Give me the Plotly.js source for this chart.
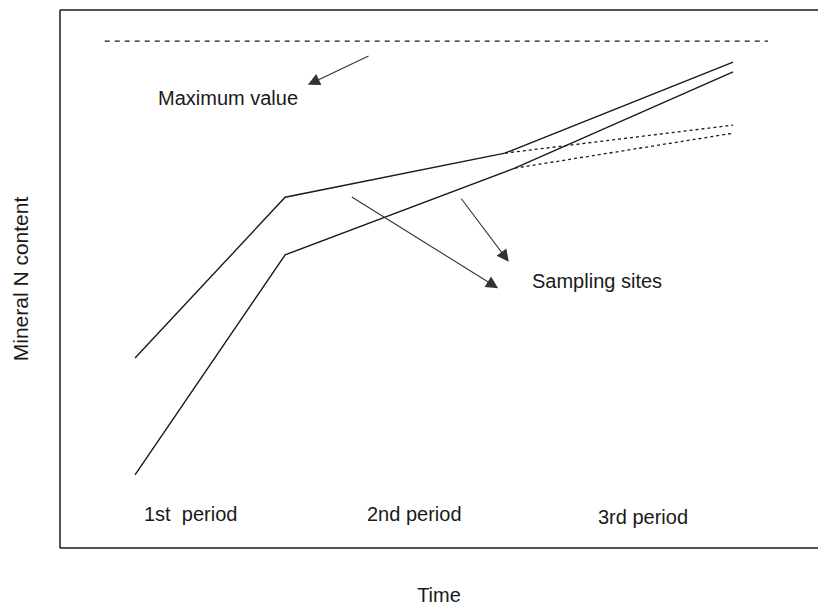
<!DOCTYPE html>
<html>
<head>
<meta charset="utf-8">
<script src="https://cdn.plot.ly/plotly-3.0.1.min.js"></script>
<style>html,body{margin:0;padding:0;background:#fff;}#chart{width:818px;height:614px;}</style>
</head>
<body>
<div id="chart"></div>
<script>
// Schematic values (arbitrary units: time 0-100, mineral N content 0-100)
const upperTime = [9.9, 29.7, 58.7, 88.8];
const upperN    = [35.3, 65.2, 73.4, 90.3];
const lowerTime = [9.9, 29.7, 60.0, 88.8];
const lowerN    = [13.6, 54.5, 70.6, 88.5];
const upperAltTime = [58.7, 88.8];
const upperAltN    = [73.4, 78.6];
const lowerAltTime = [60.0, 88.8];
const lowerAltN    = [70.6, 77.1];
const maxTime = [5.9, 93.4];
const maxN    = [94.2, 94.2];
const periodLabels = ["1st  period", "2nd period", "3rd period"];
const periodTime   = [17.2, 46.8, 76.9];
const periodN      = [6.3, 6.3, 5.8];
// arrows: [tailTime, tailN, headTime, headN]
const maxArrow = [40.9, 91.6, 32.7, 86.1];
const siteArrows = [[38.3, 65.4, 57.8, 48.3], [52.8, 65.2, 59.2, 53.2]];
const maxLabel = {text: "Maximum value", t: 22.2, n: 83.6};
const siteLabel = {text: "Sampling sites", t: 70.8, n: 49.6};

const ink = "#1a1a1a";
const font = "Liberation Sans, Arial, Helvetica, sans-serif";
const fs = 20;

const traces = [
  {x: upperTime, y: upperN, mode: "lines", line: {color: ink, width: 1.4}, hoverinfo: "skip"},
  {x: lowerTime, y: lowerN, mode: "lines", line: {color: ink, width: 1.4}, hoverinfo: "skip"},
  {x: upperAltTime, y: upperAltN, mode: "lines", line: {color: ink, width: 1.3, dash: "dot"}, hoverinfo: "skip"},
  {x: lowerAltTime, y: lowerAltN, mode: "lines", line: {color: ink, width: 1.3, dash: "dot"}, hoverinfo: "skip"},
  {x: maxTime, y: maxN, mode: "lines", line: {color: ink, width: 1.3, dash: "5px,5px"}, hoverinfo: "skip"}
];

const annotations = [];
periodLabels.forEach((lab, i) => annotations.push({
  x: periodTime[i], y: periodN[i], xref: "x", yref: "y", text: lab, showarrow: false,
  font: {family: font, size: fs, color: ink}
}));
annotations.push({x: maxLabel.t, y: maxLabel.n, xref: "x", yref: "y", text: maxLabel.text, showarrow: false,
  font: {family: font, size: fs, color: ink}});
annotations.push({x: siteLabel.t, y: siteLabel.n, xref: "x", yref: "y", text: siteLabel.text, showarrow: false,
  font: {family: font, size: fs, color: ink}});
[maxArrow].concat(siteArrows).forEach(a => annotations.push({
  x: a[2], y: a[3], ax: a[0], ay: a[1], xref: "x", yref: "y", axref: "x", ayref: "y",
  text: "", showarrow: true, arrowhead: 2, arrowsize: 2.2, arrowwidth: 1.1, arrowcolor: "#333", standoff: 0
}));

const layout = {
  width: 818, height: 614,
  margin: {l: 60, r: 0, t: 10, b: 66},
  paper_bgcolor: "#fff", plot_bgcolor: "#fff",
  showlegend: false,
  xaxis: {range: [0, 100], showgrid: false, zeroline: false, showticklabels: false, ticks: "",
    showline: false, fixedrange: true,
    title: {text: "Time", standoff: 39, font: {family: font, size: fs, color: ink}}},
  yaxis: {range: [0, 100], showgrid: false, zeroline: false, showticklabels: false, ticks: "",
    showline: false, fixedrange: true,
    title: {text: "Mineral N content", standoff: 24, font: {family: font, size: 21, color: ink}}},
  shapes: [
    {type: "line", xref: "paper", yref: "paper", x0: 0, x1: 1.01, y0: 1, y1: 1, line: {color: ink, width: 1.5}},
    {type: "line", xref: "paper", yref: "paper", x0: 0, x1: 0, y0: 0, y1: 1, line: {color: ink, width: 1.5}},
    {type: "line", xref: "paper", yref: "paper", x0: 0, x1: 1.01, y0: 0, y1: 0, line: {color: ink, width: 1.5}}
  ],
  annotations: annotations
};

Plotly.newPlot("chart", traces, layout, {staticPlot: true, displayModeBar: false});
</script>
</body>
</html>
